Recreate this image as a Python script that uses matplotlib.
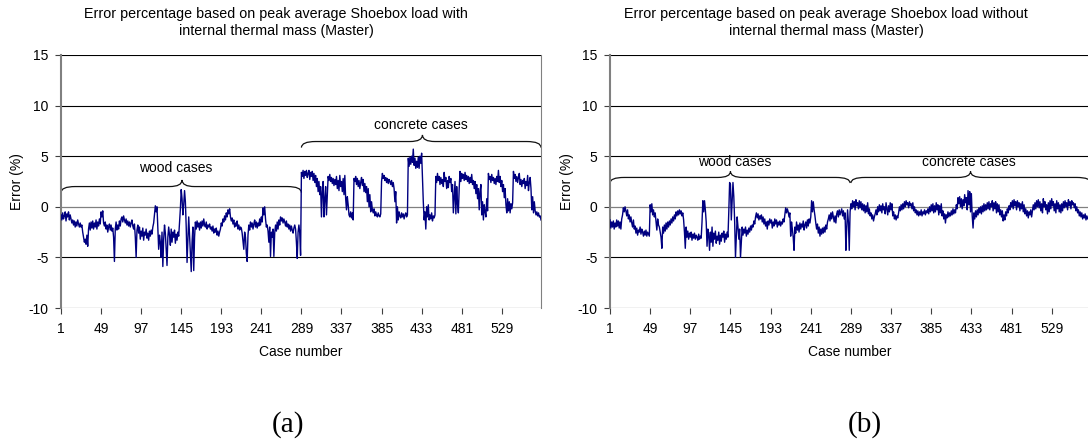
import numpy as np
import matplotlib
matplotlib.use('Agg')
import matplotlib.pyplot as plt
from matplotlib.path import Path
from matplotlib.patches import PathPatch

plt.rcParams['font.family'] = 'Liberation Sans'
plt.rcParams['font.size'] = 10
plt.rcParams['axes.unicode_minus'] = False

# error (%) per case, with internal thermal mass (a)
err_with = [
    -0.8,-1.3,-0.6,-1.2,-0.9,-0.5,-1.4,-0.7,-1.0,-0.5,-1.3,-0.8,
    -1.2,-1.6,-1.3,-1.8,-1.4,-2.0,-1.5,-1.9,-1.3,-1.7,-2.0,-1.6,
    -2.0,-1.8,-2.5,-3.0,-3.5,-3.2,-3.7,-2.8,-3.9,-2.2,-1.6,-2.3,
    -1.5,-2.1,-1.4,-2.2,-1.6,-2.0,-1.3,-2.2,-1.5,-1.9,-1.2,-1.7,
    -0.5,-1.0,-0.4,-1.6,-1.9,-1.5,-2.2,-1.8,-2.5,-2.0,-1.7,-2.3,
    -1.8,-2.4,-2.1,-3.0,-5.4,-2.2,-1.5,-2.3,-1.8,-2.2,-1.4,-1.9,
    -1.2,-1.0,-1.5,-0.9,-1.3,-1.6,-1.2,-1.8,-1.4,-1.9,-1.5,-2.0,
    -1.6,-1.3,-1.9,-2.2,-1.7,-3.0,-5.0,-2.3,-1.8,-2.6,-2.0,-3.2,
    -2.4,-2.9,-2.1,-3.3,-2.5,-2.8,-2.2,-3.1,-2.6,-3.3,-2.4,-2.9,
    -2.3,-2.7,-2.0,-1.6,-0.8,0.1,-0.5,0.0,-2.0,-4.2,-2.8,-3.5,
    -5.0,-2.5,-5.9,-3.2,-1.8,-2.6,-4.2,-5.8,-3.0,-2.0,-2.8,-3.8,
    -2.2,-3.5,-2.5,-3.0,-2.3,-3.6,-2.7,-3.3,-2.5,-2.9,-1.5,-0.2,
    1.7,0.8,-0.8,0.2,1.6,0.5,-2.0,-5.5,-3.2,-1.0,-2.8,-4.5,
    -6.4,-3.5,-2.0,-6.3,-3.0,-1.5,-2.2,-1.4,-2.0,-1.6,-2.3,-1.5,
    -2.1,-1.4,-1.9,-1.2,-1.8,-2.0,-1.5,-2.2,-1.8,-2.0,-1.7,-2.2,
    -2.0,-2.4,-1.9,-2.6,-2.2,-2.5,-2.1,-2.8,-2.4,-2.9,-2.5,-2.2,
    -1.6,-1.9,-1.2,-1.5,-0.9,-1.3,-0.6,-1.0,-0.3,-0.7,-0.2,-1.0,
    -1.4,-1.1,-1.7,-1.3,-2.0,-1.6,-1.9,-1.4,-2.2,-1.8,-2.3,-2.0,
    -2.1,-2.6,-3.4,-4.2,-2.5,-3.0,-4.6,-5.4,-2.8,-1.8,-2.3,-1.5,
    -2.0,-1.6,-2.2,-1.7,-1.3,-2.0,-1.5,-2.1,-1.6,-1.9,-1.2,-1.8,
    -1.0,-1.5,-0.1,-0.8,0.0,-1.2,-2.0,-1.8,-2.4,-3.5,-2.0,-4.9,
    -2.5,-3.0,-2.2,-4.9,-2.6,-1.8,-2.4,-1.5,-2.2,-1.3,-1.8,-1.0,
    -1.4,-1.1,-1.6,-1.2,-1.5,-1.9,-1.4,-2.0,-1.7,-2.2,-1.8,-2.4,
    -1.9,-2.3,-2.6,-2.1,-1.8,-2.2,-3.5,-5.1,-2.5,-1.8,-2.6,-4.8,
    3.4,3.0,3.6,2.8,3.5,3.1,3.6,2.9,3.3,3.6,2.7,3.4,
    3.0,3.5,2.6,3.3,2.4,3.1,2.0,2.8,1.5,2.5,1.2,2.0,
    -1.0,1.5,2.5,-1.0,0.8,2.0,-0.8,1.0,3.0,2.6,3.2,2.5,
    2.9,2.3,2.8,2.1,2.7,2.2,3.0,1.8,2.6,1.6,3.1,2.0,
    2.5,1.5,2.8,1.2,3.1,0.8,-0.3,1.0,0.2,-0.8,-1.0,-0.5,
    -1.1,-0.6,-1.3,2.8,2.5,3.0,2.2,2.8,2.0,2.6,1.8,2.4,
    2.9,2.1,2.7,1.5,2.3,1.4,2.0,0.5,1.8,0.0,1.2,-0.5,
    0.5,-0.3,-0.6,-0.2,-0.9,-0.5,-0.8,-1.0,-0.6,-0.9,-1.0,-0.7,
    2.5,3.3,2.8,3.1,2.6,2.9,2.4,2.8,2.3,2.7,2.5,2.2,
    2.6,2.0,2.4,1.8,0.5,1.5,-1.6,0.0,-1.3,-0.5,-0.9,-1.1,
    -0.6,-1.0,-0.7,-1.2,-0.8,-0.6,-1.0,-0.8,4.8,4.0,4.9,4.2,
    5.0,4.4,5.7,4.1,4.8,3.8,4.5,3.9,4.9,3.8,5.0,4.3,
    5.3,2.8,0.5,-1.3,-0.5,-2.2,0.0,-1.0,0.2,-1.3,-0.8,-1.2,
    -0.6,-1.4,-0.9,-1.1,-0.8,3.0,2.4,3.3,2.6,3.0,2.2,2.9,
    2.3,2.7,2.0,3.4,2.5,2.9,1.8,2.6,1.9,3.0,2.4,2.8,
    1.5,2.2,-0.6,1.0,2.5,-0.7,2.0,0.3,-0.6,1.8,3.5,2.5,
    3.3,2.8,3.2,2.6,3.4,2.7,3.1,2.5,3.0,2.3,2.9,2.4,
    3.2,2.2,2.6,1.8,2.5,1.3,2.2,0.8,1.8,-0.3,1.5,2.2,
    -0.8,0.5,-1.3,0.2,-0.5,-1.0,0.8,-0.4,3.3,2.7,3.0,2.4,
    3.2,2.6,2.9,2.3,2.8,2.2,3.0,2.5,3.6,2.4,3.0,2.0,
    2.6,1.5,2.2,0.9,1.8,0.2,-0.6,0.8,-0.4,0.5,-0.6,0.3,
    -0.2,0.4,3.5,2.8,3.2,2.5,3.0,2.4,2.9,3.3,2.2,2.7,
    2.0,2.6,2.3,2.8,1.8,2.5,2.1,3.1,1.6,2.4,2.9,1.8,
    -0.3,1.0,-0.6,0.5,-0.4,-0.8,-0.5,-0.9,-0.6,-1.0,-0.9,-1.3,
]

# error (%) per case, without internal thermal mass (b)
err_without = [
    -1.3,-2.1,-1.5,-2.0,-1.4,-2.2,-1.6,-2.0,-1.3,-1.9,-1.4,-2.1,
    -1.5,-2.2,-1.2,-0.8,-0.1,-0.5,0.0,-0.4,-0.9,-0.3,-1.2,-0.8,
    -1.5,-1.0,-1.6,-2.0,-1.3,-2.2,-1.9,-2.6,-2.1,-2.8,-2.3,-2.5,
    -2.0,-2.7,-2.2,-2.5,-2.9,-2.4,-2.8,-2.3,-2.9,-2.5,-2.7,-2.9,
    0.2,-0.5,0.3,-0.8,-0.3,-1.0,-0.6,-1.5,-2.3,-1.2,-1.8,-2.0,
    -2.5,-3.0,-4.1,-2.0,-2.6,-1.8,-2.4,-1.6,-2.2,-1.5,-2.0,-1.4,
    -1.8,-1.2,-1.6,-1.0,-1.4,-0.8,-1.2,-0.5,-0.9,-0.4,-0.8,-0.3,
    -0.7,-0.4,-0.9,-0.6,-1.3,-2.5,-4.1,-2.0,-3.0,-2.4,-3.2,-2.6,
    -3.0,-2.5,-3.3,-2.7,-3.1,-2.6,-3.2,-2.8,-3.0,-3.3,-2.7,-3.2,
    -2.9,-3.1,-1.5,0.6,-0.5,0.6,-0.3,-1.5,-3.9,-2.2,-2.8,-4.3,
    -2.5,-3.5,-2.0,-3.9,-2.6,-3.2,-2.4,-3.6,-2.9,-3.3,-2.5,-3.7,
    -2.8,-3.4,-2.6,-3.0,-2.4,-3.5,-2.7,-3.2,-2.5,-3.0,-0.5,2.4,
    2.2,-1.3,0.5,2.4,1.0,-1.4,-5.0,-3.0,-1.0,-2.0,-3.2,-2.2,
    -5.0,-3.5,-2.0,-2.8,-2.2,-2.6,-2.0,-2.9,-2.3,-2.7,-2.1,-2.5,
    -1.9,-2.3,-1.8,-2.0,-1.4,-1.7,-1.0,-0.6,-1.1,-0.7,-1.3,-0.9,
    -1.2,-0.8,-1.5,-1.0,-1.7,-1.2,-1.9,-1.5,-2.2,-1.4,-1.8,-1.2,
    -1.6,-1.3,-2.1,-1.5,-1.9,-1.2,-1.7,-1.3,-2.0,-1.5,-1.8,-1.4,
    -1.9,-1.5,-1.7,-1.2,-1.5,-0.8,-0.1,-0.6,-0.2,-0.5,-1.0,-0.6,
    -2.9,-1.5,-2.2,-3.0,-4.3,-2.0,-2.6,-1.5,-2.3,-1.8,-2.5,-1.6,
    -2.2,-1.7,-2.0,-1.4,-2.3,-1.8,-1.5,-2.1,-1.3,-1.9,-1.2,-1.6,
    -1.0,0.6,-0.5,0.5,-0.3,-0.9,-1.6,-2.2,-1.7,-2.6,-2.0,-2.9,
    -2.2,-2.7,-2.1,-2.6,-2.0,-2.5,-1.8,-2.2,-1.5,-1.2,-0.8,-1.4,
    -0.6,-1.2,-0.5,-1.0,-1.5,-0.9,-1.6,-0.7,-0.4,-1.0,-0.3,-0.8,
    -0.5,-0.2,-0.9,-0.4,-1.2,-0.6,-4.3,-2.0,-0.3,-1.5,-4.3,-0.5,
    0.3,-0.2,0.6,0.0,0.5,-0.3,0.7,0.1,0.4,-0.2,0.6,-0.1,
    0.5,-0.3,0.3,-0.4,0.2,-0.6,0.1,-0.5,0.4,-0.7,-0.2,-0.9,
    -0.6,-1.2,-0.8,-1.4,-1.0,-0.7,-0.3,-0.8,0.0,-0.5,0.2,-0.4,
    0.1,-0.6,0.3,-0.3,0.0,-0.7,0.4,-0.2,-0.8,0.1,-0.5,0.4,
    -0.3,0.3,-0.9,-0.5,-1.2,-0.8,-1.3,-0.9,-1.1,-0.6,0.0,-0.4,
    0.2,-0.3,0.3,-0.2,0.5,0.0,0.6,0.2,0.4,-0.1,0.5,0.1,
    0.3,-0.2,0.4,-0.4,0.0,-0.6,-0.3,-0.8,-0.4,-0.9,-0.5,-0.8,
    -0.3,-0.9,-0.5,-0.7,-0.3,-0.8,-0.4,-0.6,-0.2,-0.7,0.0,-0.5,
    0.2,-0.4,0.3,-0.6,0.1,-0.5,0.4,-0.3,0.2,-0.8,0.1,-0.6,
    0.3,-0.9,-0.4,-1.2,-0.7,-1.6,-0.8,-1.1,-0.5,-1.0,-0.6,-0.9,
    -0.4,-0.8,-0.2,-0.7,-0.3,-0.6,0.2,-0.2,0.9,0.3,1.0,0.0,
    0.8,-0.2,0.7,0.1,1.2,0.4,0.9,-0.3,1.6,0.2,1.5,-0.5,
    1.3,-0.9,-2.1,-0.6,-1.2,-0.4,-1.0,-0.3,-0.8,-0.1,-0.6,0.0,
    -0.7,0.1,-0.5,0.3,-0.4,0.2,-0.3,0.4,-0.2,0.5,-0.3,0.3,
    0.0,0.6,-0.4,0.4,-0.2,0.5,-0.6,0.3,-0.5,0.2,-0.8,-0.3,
    -1.0,-0.4,-1.4,-0.8,-1.3,-0.5,-0.9,-0.2,-0.6,0.1,-0.3,0.4,
    0.0,0.6,-0.2,0.7,0.1,0.5,-0.3,0.6,0.0,0.4,-0.4,0.3,
    -0.2,0.5,-0.5,0.2,-0.7,-0.2,-0.9,-0.4,-1.1,-0.5,-0.8,-0.3,
    -1.0,-0.4,0.2,-0.3,0.4,-0.2,0.6,0.0,0.7,-0.1,0.5,-0.4,
    0.3,-0.6,0.8,0.0,0.5,-0.3,0.2,-0.7,0.4,-0.5,0.6,-0.2,
    0.8,0.1,0.5,-0.4,0.3,-0.6,0.6,-0.2,0.4,-0.5,0.2,-0.6,
    0.3,-0.4,0.5,-0.1,0.6,0.0,0.4,-0.3,0.7,0.1,0.5,-0.2,
    0.6,0.2,0.4,-0.1,0.3,-0.4,0.0,-0.6,-0.3,-0.9,-0.5,-1.0,
    -0.6,-1.2,-0.8,-1.1,-0.7,-1.3,-0.9,-1.2,-1.0,-1.4,-1.1,-1.3,
]

cases = np.arange(1, 577)
xtick_vals = [1, 49, 97, 145, 193, 241, 289, 337, 385, 433, 481, 529]
titles = ["Error percentage based on peak average Shoebox load with\ninternal thermal mass (Master)",
          "Error percentage based on peak average Shoebox load without\ninternal thermal mass (Master)"]
letters = ["(a)", "(b)"]

assert len(err_with) == 576 and len(err_without) == 576


def brace(ax, x0, x1, xm, ye, yh, yt, re, rm):
    verts = [(x0, ye), (x0, yh), (x0 + re, yh), (xm - rm, yh), (xm, yh), (xm, yt),
             (xm, yh), (xm + rm, yh), (x1 - re, yh), (x1, yh), (x1, ye)]
    codes = [Path.MOVETO, Path.CURVE3, Path.CURVE3, Path.LINETO, Path.CURVE3, Path.CURVE3,
             Path.CURVE3, Path.CURVE3, Path.LINETO, Path.CURVE3, Path.CURVE3]
    ax.add_patch(PathPatch(Path(verts, codes), fill=False, edgecolor='#111111', lw=0.9, clip_on=False))


fig = plt.figure(figsize=(10.88, 4.42), dpi=100)
W, H = 1088., 442.
ax_a = fig.add_axes([61/W, 1-308/H, 480/W, 253/H])
ax_b = fig.add_axes([610/W, 1-308/H, 481/W, 253/H])

for ax, vals in [(ax_a, err_with), (ax_b, err_without)]:
    for y in [-10, -5, 5, 10, 15]:
        ax.axhline(y, color='black', lw=0.8, zorder=1)
    ax.axhline(0, color='#808080', lw=0.9, zorder=1)
    ax.plot(cases, vals, color='#000080', lw=1.0, zorder=3)
    ax.set_xlim(1, 576)
    ax.set_ylim(-10, 15)
    ax.set_yticks(range(-10, 16, 5))
    ax.set_xticks(xtick_vals)
    ax.tick_params(axis='x', length=4, pad=6, color='#404040')
    ax.tick_params(axis='y', length=4, pad=5, color='#404040')
    for s in ['top', 'bottom']:
        ax.spines[s].set_visible(False)
    ax.spines['left'].set_color('#808080')
    ax.spines['left'].set_linewidth(1.5)
    ax.spines['right'].set_color('#808080')
    ax.spines['right'].set_linewidth(0.8)

# braces and labels
brace(ax_a, 1, 289, 146, 1.4, 2.0, 2.65, 17, 15)
ax_a.text(139, 3.85, 'wood cases', ha='center', va='center')
brace(ax_a, 289, 576, 434, 5.85, 6.45, 7.1, 17, 15)
ax_a.text(432, 8.1, 'concrete cases', ha='center', va='center')

brace(ax_b, 1, 288, 145, 2.35, 2.9, 3.5, 17, 15)
ax_b.text(150, 4.4, 'wood cases', ha='center', va='center')
brace(ax_b, 289, 576, 432, 2.35, 2.9, 3.5, 17, 15)
ax_b.text(430, 4.4, 'concrete cases', ha='center', va='center')

# titles, axis labels, panel letters
fig.text(276/W, 1-22.5/H, titles[0], ha='center', va='center', fontsize=10.3)
fig.text(826/W, 1-22.5/H, titles[1], ha='center', va='center', fontsize=10.3)
for x in [17, 567]:
    fig.text(x/W, 1-181.5/H, 'Error (%)', rotation=90, ha='center', va='center')
fig.text(301/W, 1-352/H, 'Case number', ha='center', va='center')
fig.text(850/W, 1-352/H, 'Case number', ha='center', va='center')
fig.text(288/W, 1-425/H, letters[0], ha='center', va='center', family='Liberation Serif', fontsize=21)
fig.text(865/W, 1-425/H, letters[1], ha='center', va='center', family='Liberation Serif', fontsize=21)

fig.savefig('out.png', dpi=100)
